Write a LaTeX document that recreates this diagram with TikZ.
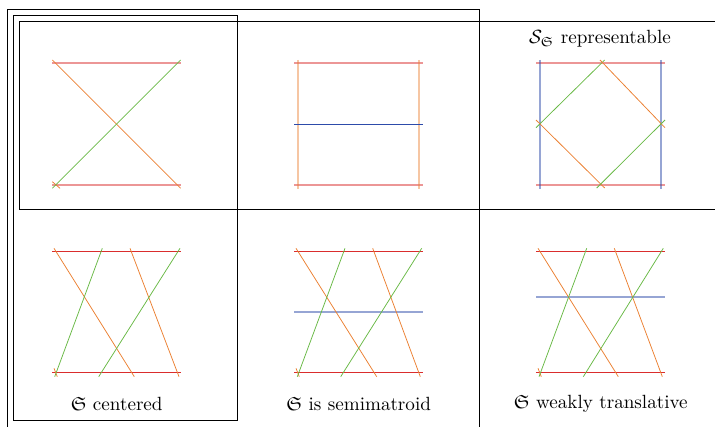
\documentclass[tikz,border=0pt]{standalone}
\usepackage{amssymb}
\definecolor{myred}{RGB}{218,45,45}
\definecolor{myorange}{RGB}{235,128,50}
\definecolor{mygreen}{RGB}{105,185,70}
\definecolor{myblue}{RGB}{45,75,170}
\begin{document}
\begin{tikzpicture}[x=0.523pt,y=-0.523pt,
  frame/.style={draw=black,line width=0.5pt},
  redA/.style={draw=myred,draw opacity=0.5,line width=0.75pt},
  redB/.style={draw=myred,line width=0.5pt},
  orangeL/.style={draw=myorange,line width=0.4pt},
  greenL/.style={draw=mygreen,line width=0.4pt},
  orangeV/.style={draw=myorange,draw opacity=0.45,line width=0.9pt},
  blueV/.style={draw=myblue,draw opacity=0.5,line width=0.6pt},
  blueH/.style={draw=myblue,line width=0.5pt},
  blueT/.style={draw=myblue,draw opacity=0.5,line width=1pt},
  lbl/.style={inner sep=0pt,font=\normalsize}]
\useasboundingbox (0,0) rectangle (715,427);
% frames
\draw[frame] (7.3,427) -- (7.3,9.3) -- (479.3,9.3) -- (479.3,427);
\draw[frame] (13.3,15.3) rectangle (237.3,420);
\draw[frame] (715,21.7) -- (19.7,21.7) -- (19.7,209) -- (715,209);
% panel 1
\draw[redA] (52,63) -- (181,63);
\draw[redA] (52,185) -- (181,185);
\draw[orangeL] (52.3,60) -- (180.7,188.3);
\draw[orangeL] (52.3,181.7) -- (60,188.3);
\draw[greenL] (52.3,188.3) -- (180.7,60);
% panel 2
\draw[redA] (294,63) -- (422.7,63);
\draw[redA] (294,185) -- (422.7,185);
\draw[orangeV] (298,60) -- (298,189);
\draw[orangeV] (419,60) -- (419,189);
\draw[blueH] (294,124.3) -- (422.7,124.3);
% panel 3
\node[lbl] (t3) at (600,39) {$\mathcal{S}_{\mathfrak{S}}$ representable};
\draw[redA] (536,63) -- (665,63);
\draw[redA] (536,185) -- (665,185);
\draw[blueV] (540,60) -- (540,189);
\draw[blueV] (661,60) -- (661,189);
\draw[greenL] (536,127.7) -- (604.7,60);
\draw[orangeL] (600,60) -- (665,127.7);
\draw[orangeL] (536,120) -- (604.7,188);
\draw[greenL] (596.7,188) -- (665,120);
% panel 4
\draw[redB] (52,251.3) -- (181,251.3);
\draw[redB] (52,372.3) -- (181,372.3);
\draw[orangeL] (54,248.3) -- (134.3,376.7);
\draw[orangeL] (130,248.3) -- (179,376.7);
\draw[orangeL] (54,368.3) -- (57.3,376.7);
\draw[greenL] (102.3,248.3) -- (54.7,376.7);
\draw[greenL] (180,248.3) -- (98.7,376.7);
\node[lbl] (l4) at (116.7,403.5) {$\mathfrak{S}$ centered};
% panel 5
\draw[redB] (294,251.3) -- (422.7,251.3);
\draw[redB] (294,372.3) -- (422.7,372.3);
\draw[blueT] (294,311.7) -- (422.7,311.7);
\draw[orangeL] (296,248.3) -- (376.7,376.7);
\draw[orangeL] (372.7,248.3) -- (420.3,376.7);
\draw[orangeL] (296,368.3) -- (299.3,376.7);
\draw[greenL] (345,248.3) -- (297.3,376.7);
\draw[greenL] (421.7,248.3) -- (340.7,376.7);
\node[lbl] (l5) at (358.7,403.5) {$\mathfrak{S}$ is semimatroid};
% panel 6
\draw[redB] (536,251.3) -- (665,251.3);
\draw[redB] (536,372.3) -- (665,372.3);
\draw[blueT] (536,297) -- (665,297);
\draw[orangeL] (538,248.3) -- (618.3,376.7);
\draw[orangeL] (614.3,248.3) -- (662.3,376.7);
\draw[orangeL] (538,368.3) -- (541.3,376.7);
\draw[greenL] (586.7,248.3) -- (539,376.7);
\draw[greenL] (663.3,248.3) -- (583.3,376.7);
\node[lbl] (l6) at (600.8,403.5) {$\mathfrak{S}$ weakly translative};
\end{tikzpicture}
\end{document}
